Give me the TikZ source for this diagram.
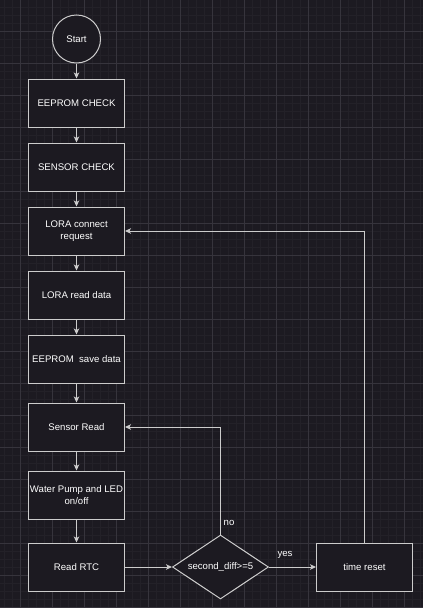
\documentclass[tikz,border=0pt]{standalone}
\usepackage{fontspec}
\setmainfont{Liberation Sans}
\usetikzlibrary{arrows.meta,shapes.geometric}
\definecolor{bgc}{HTML}{1C1A21}
\definecolor{gminor}{HTML}{232128}
\definecolor{gmajor}{HTML}{36343C}
\definecolor{linec}{HTML}{CCCCCC}
\tikzset{
  stepbox/.style={draw=linec, line width=1pt, fill=bgc, rectangle, minimum width=96pt, minimum height=48pt, inner sep=0pt, align=center, text=white},
  startnode/.style={draw=linec, line width=1pt, fill=bgc, circle, minimum size=48pt, inner sep=0pt, text=white},
  decision/.style={draw=linec, line width=1pt, fill=bgc, diamond, minimum width=96pt, minimum height=64pt, inner sep=0pt},
  flow/.style={draw=linec, line width=1pt, -{Stealth[length=6pt,width=5.5pt,inset=1.5pt]}},
  edgelabel/.style={text=white, inner sep=0pt}
}
\begin{document}
\begin{tikzpicture}[x=1pt,y=-1pt,font=\fontsize{9.6}{11.5}\selectfont]
\fill[bgc] (0,0) rectangle (423,608);
\useasboundingbox (0,0) rectangle (423,608);
\foreach \x in {4.5,12.5,...,420.5} \draw[gminor,line width=0.6pt] (\x,0) -- (\x,608);
\foreach \y in {7,15,...,607} \draw[gminor,line width=0.6pt] (0,\y) -- (423,\y);
\foreach \x in {20.5,52.5,...,404.5} \draw[gmajor,line width=0.8pt] (\x,0) -- (\x,608);
\foreach \y in {31,63,...,607} \draw[gmajor,line width=0.8pt] (0,\y) -- (423,\y);

\node[startnode] (start) at (76.5,39) {Start};
\node[stepbox] (eecheck) at (76.5,103) {EEPROM CHECK};
\node[stepbox] (scheck) at (76.5,167) {SENSOR CHECK};
\node[stepbox] (lora) at (76.5,231) {LORA connect\\request};
\node[stepbox] (loraread) at (76.5,295) {LORA read data};
\node[stepbox] (eesave) at (76.5,359) {EEPROM\ \ save data};
\node[stepbox] (sread) at (76.5,427) {Sensor Read};
\node[stepbox] (pump) at (76.5,495) {Water Pump and LED\\on/off};
\node[stepbox] (rtc) at (76.5,567) {Read RTC};
\node[decision, label={[text=white]center:second\_diff>=5}] (diff) at (220.5,567) {};
\node[stepbox] (treset) at (364.5,567) {time reset};

\draw[flow] (start) -- (eecheck);
\draw[flow] (eecheck) -- (scheck);
\draw[flow] (scheck) -- (lora);
\draw[flow] (lora) -- (loraread);
\draw[flow] (loraread) -- (eesave);
\draw[flow] (eesave) -- (sread);
\draw[flow] (sread) -- (pump);
\draw[flow] (pump) -- (rtc);
\draw[flow] (rtc) -- (diff);
\draw[flow] (diff) -- node[edgelabel, pos=0.34, yshift=12pt] {yes} (treset);
\draw[flow] (diff.north) |- (sread.east);
\node[edgelabel, anchor=west] (nolabel) at (223.5,523) {no};
\draw[flow] (treset.north) |- (lora.east);
\end{tikzpicture}
\end{document}
